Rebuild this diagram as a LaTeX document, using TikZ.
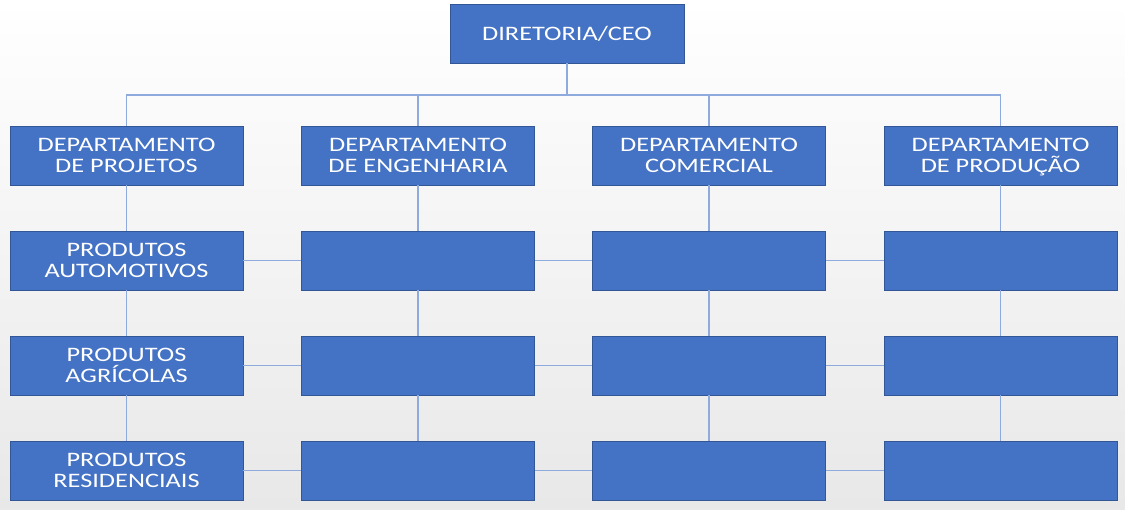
\documentclass[tikz,border=0pt]{standalone}
\usepackage{fontspec}
\setmainfont{Carlito}
\newfontfamily\orgfont[FakeStretch=1.28]{Carlito}
\usepackage{tikz}
\usetikzlibrary{positioning}
\definecolor{boxblue}{RGB}{68,114,196}
\definecolor{boxedge}{RGB}{50,86,150}
\definecolor{linkblue}{RGB}{143,170,220}
\definecolor{paper}{RGB}{232,232,232}
\tikzset{
  orgbox/.style={draw=boxedge,line width=0.5pt,fill=boxblue,minimum width=4.66cm,minimum height=1.18cm,align=center,text=white,font=\orgfont\fontsize{11.7}{12.2}\selectfont,inner sep=0pt},
  link/.style={draw=linkblue,line width=0.8pt}
}

\begin{document}
\begin{tikzpicture}
  % background
  \shade[top color=white,middle color=white,bottom color=paper] (0,0) rectangle (22.5,-10.18);
  \useasboundingbox (0,0) rectangle (22.5,-10.18);

  % top level
  \node[orgbox,minimum width=4.68cm] (ceo) at (11.34,-0.67) {DIRETORIA/CEO};

  % departments
  \node[orgbox] (proj) at (2.53,-3.11) {DEPARTAMENTO\\DE PROJETOS};
  \node[orgbox] (eng) at (8.36,-3.11) {DEPARTAMENTO\\DE ENGENHARIA};
  \node[orgbox] (com) at (14.18,-3.11) {DEPARTAMENTO\\COMERCIAL};
  \node[orgbox] (prod) at (20.01,-3.11) {DEPARTAMENTO\\DE PRODU\smash{Ç}ÃO};

  % product lines
  \node[orgbox] (auto) at (2.53,-5.21) {PRODUTOS\\AUTOMOTIVOS};
  \node[orgbox] (agri) at (2.53,-7.31) {PRODUTOS\\AGRÍCOLAS};
  \node[orgbox] (resi) at (2.53,-9.41) {PRODUTOS\\RESIDENCIAIS};

  \node[orgbox] (engA) at (8.36,-5.21) {};
  \node[orgbox] (engB) at (8.36,-7.31) {};
  \node[orgbox] (engC) at (8.36,-9.41) {};
  \node[orgbox] (comA) at (14.18,-5.21) {};
  \node[orgbox] (comB) at (14.18,-7.31) {};
  \node[orgbox] (comC) at (14.18,-9.41) {};
  \node[orgbox] (prodA) at (20.01,-5.21) {};
  \node[orgbox] (prodB) at (20.01,-7.31) {};
  \node[orgbox] (prodC) at (20.01,-9.41) {};

  % tree links
  \coordinate (bus) at (11.34,-1.90);
  \draw[link] (ceo.south) -- (bus);
  \draw[link] (proj.north) |- (bus);
  \draw[link] (eng.north) |- (bus);
  \draw[link] (com.north) |- (bus);
  \draw[link] (prod.north) |- (bus);

  \draw[link] (proj) -- (auto) -- (agri) -- (resi);
  \draw[link] (eng) -- (engA) -- (engB) -- (engC);
  \draw[link] (com) -- (comA) -- (comB) -- (comC);
  \draw[link] (prod) -- (prodA) -- (prodB) -- (prodC);

  \draw[link] (auto) -- (engA) -- (comA) -- (prodA);
  \draw[link] (agri) -- (engB) -- (comB) -- (prodB);
  \draw[link] (resi) -- (engC) -- (comC) -- (prodC);
\end{tikzpicture}
\end{document}
